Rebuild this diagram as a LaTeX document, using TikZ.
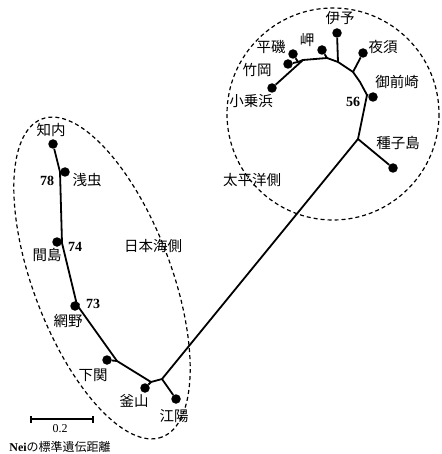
\documentclass[tikz,border=0pt]{standalone}
\usepackage{fontspec}
\newfontfamily\jp{Noto Sans CJK JP}
\newfontfamily\numf{Liberation Serif}
\begin{document}
\begin{tikzpicture}[x=1pt,y=-1pt,
  br/.style={line width=1.8pt},
  tip/.style={circle,fill=black,inner sep=0pt,minimum size=9.5pt},
  lab/.style={font=\jp\fontsize{14.5}{16}\selectfont,inner sep=0pt},
  num/.style={font=\numf\bfseries\fontsize{14}{15}\selectfont,inner sep=0pt},
  grp/.style={line width=1.2pt,dash pattern=on 4pt off 3pt}]
\useasboundingbox (0,0) rectangle (441,454);
% group outlines
\draw[grp] (333,114) circle (106);
\draw[grp] (102,278) ellipse[x radius=170,y radius=69,rotate=-69.3];
% tips
\node[tip] (chinai) at (53,144) {};
\node[tip] (asamushi) at (65,172) {};
\node[tip] (majima) at (57,242) {};
\node[tip] (amino) at (75,306) {};
\node[tip] (shimonoseki) at (107,360) {};
\node[tip] (busan) at (145,388) {};
\node[tip] (koyo) at (176,399) {};
\node[tip] (tane) at (393,168) {};
\node[tip] (omae) at (373,97) {};
\node[tip] (yasu) at (363,53) {};
\node[tip] (iyo) at (337,33) {};
\node[tip] (misaki) at (322,50) {};
\node[tip] (hiraiso) at (293,54) {};
\node[tip] (takeoka) at (288,64) {};
\node[tip] (kojo) at (272,88) {};
% internal points
\coordinate (a1) at (60,172);
\coordinate (a2) at (62,243);
\coordinate (a3) at (77,305);
\coordinate (b1) at (117,361);
\coordinate (b2) at (151,382);
\coordinate (b3) at (162,379);
\coordinate (c1) at (358,139);
\coordinate (c2) at (367,95);
\coordinate (c3) at (360,82);
\coordinate (c4) at (353,72);
\coordinate (c5) at (338,62);
\coordinate (c6) at (327,58);
\coordinate (c7) at (303,60);
\coordinate (c8) at (298,62);
% branches
\draw[br] (chinai) -- (a1) -- (a2) -- (a3) -- (b1) -- (b2) -- (b3) -- (c1) -- (c2) -- (c3) -- (c4) -- (c5) -- (c6) -- (c7) -- (c8);
\draw[br] (a1) -- (asamushi);
\draw[br] (a2) -- (majima);
\draw[br] (a3) -- (amino);
\draw[br] (b1) -- (shimonoseki);
\draw[br] (b2) -- (busan);
\draw[br] (b3) -- (koyo);
\draw[br] (c1) -- (tane);
\draw[br] (c2) -- (omae);
\draw[br] (c4) -- (yasu);
\draw[br] (c5) -- (iyo);
\draw[br] (c6) -- (misaki);
\draw[br] (c7) -- (kojo);
\draw[br] (c8) -- (hiraiso);
\draw[br] (c8) -- (takeoka);
% labels
\node[lab] (l1) at (51,130) {知内};
\node[lab] (l2) at (87,180) {浅虫};
\node[lab] (l3) at (47,255) {間島};
\node[lab] (l4) at (68,321) {網野};
\node[lab] (l5) at (93,375) {下関};
\node[lab] (l6) at (134,401) {釜山};
\node[lab] (l7) at (174,416) {江陽};
\node[lab] (l8) at (153,246) {日本海側};
\node[lab] (l9) at (252,180) {太平洋側};
\node[lab] (l10) at (340,18) {伊予};
\node[lab] (l11) at (307,40) {岬};
\node[lab] (l12) at (271,47) {平磯};
\node[lab] (l13) at (257,70) {竹岡};
\node[lab] (l14) at (251,101) {小乗浜};
\node[lab] (l15) at (383,47) {夜須};
\node[lab] (l16) at (397,82) {御前崎};
\node[lab] (l17) at (398,143) {種子島};
\node[num] (n78) at (47,181) {78};
\node[num] (n74) at (75,247) {74};
\node[num] (n73) at (93,304) {73};
\node[num] (n56) at (353,102) {56};
% scale bar
\coordinate (s1) at (31,419);
\coordinate (s2) at (93,419);
\draw[line width=1.5pt] (s1) -- (s2);
\draw[line width=1.5pt] ([yshift=-3.5pt]s1) -- ([yshift=3.5pt]s1);
\draw[line width=1.5pt] ([yshift=-3.5pt]s2) -- ([yshift=3.5pt]s2);
\node[font=\numf\fontsize{12}{13}\selectfont,inner sep=0pt] (sc) at (60,429) {0.2};
\node[font=\numf\bfseries\fontsize{12}{13}\selectfont,inner sep=0pt] (nei) at (60,447) {Nei{\jp\mdseries の標準遺伝距離}};
\end{tikzpicture}
\end{document}
